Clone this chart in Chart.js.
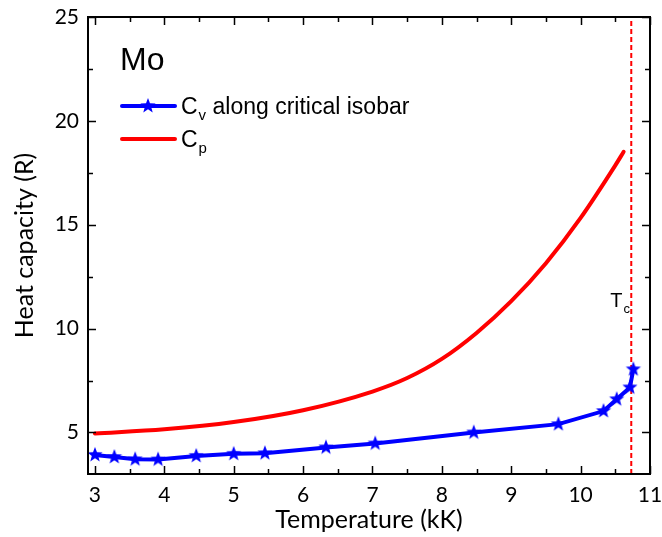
<!DOCTYPE html>
<html>
<head>
<meta charset="utf-8">
<script src="https://cdn.jsdelivr.net/npm/chart.js@4.4.1/dist/chart.umd.min.js"></script>
<style>
  html, body { margin: 0; padding: 0; background: #fff; }
</style>
</head>
<body>
<canvas id="chart" width="662" height="537"></canvas>
<script>
'use strict';

// Cp curve (R) vs temperature (kK)
const cpTemp = [3.0, 4.0, 5.0, 6.0, 7.0, 7.5, 8.0, 8.5, 9.0, 9.5, 10.0, 10.5, 10.62];
const cpValues = [4.95, 5.15, 5.5, 6.07, 6.97, 7.62, 8.54, 9.79, 11.32, 13.15, 15.33, 17.86, 18.51];

// Cv along the critical isobar
const cvTemp = [3.0, 3.28, 3.58, 3.91, 4.46, 5.0, 5.45, 6.33, 7.04, 8.46, 9.68, 10.33, 10.52, 10.71, 10.76];
const cvValues = [3.92, 3.82, 3.71, 3.70, 3.87, 3.97, 4.0, 4.28, 4.47, 5.0, 5.40, 6.03, 6.6, 7.17, 8.04];

const criticalTemp = 10.73;
const xTicks = [3, 4, 5, 6, 7, 8, 9, 10, 11];
const yTicks = [5, 10, 15, 20, 25];
const xMinor = [3.5, 4.5, 5.5, 6.5, 7.5, 8.5, 9.5, 10.5];
const yMinor = [7.5, 12.5, 17.5, 22.5];

const BLUE = '#0000ff';
const RED = '#ff0000';

function makeStar(radius, color) {
    const size = Math.ceil(radius * 2 + 2);
    const c = document.createElement('canvas');
    c.width = size;
    c.height = size;
    const ctx = c.getContext('2d');
    const cx = size / 2, cy = size / 2;
    ctx.beginPath();
    for (let i = 0; i < 10; i++) {
        const r = i % 2 === 0 ? radius : radius * 0.42;
        const a = -Math.PI / 2 + i * Math.PI / 5;
        const px = cx + r * Math.cos(a), py = cy + r * Math.sin(a);
        if (i === 0) ctx.moveTo(px, py); else ctx.lineTo(px, py);
    }
    ctx.closePath();
    ctx.fillStyle = color;
    ctx.fill();
    return c;
}

const star = makeStar(8, BLUE);

const toPoints = (xs, ys) => xs.map((x, i) => ({ x: x, y: ys[i] }));

function subText(ctx, x, y, main, sub, rest, size) {
    ctx.font = size + 'px "Liberation Sans", Arial, sans-serif';
    ctx.fillText(main, x, y);
    let w = ctx.measureText(main).width;
    ctx.font = Math.round(size * 0.65) + 'px "Liberation Sans", Arial, sans-serif';
    ctx.fillText(sub, x + w + 1, y + size * 0.28);
    w += ctx.measureText(sub).width + 1;
    if (rest) {
        ctx.font = size + 'px "Liberation Sans", Arial, sans-serif';
        ctx.fillText(rest, x + w, y);
    }
}

const frame = {
    id: 'frame',
    afterDraw(chart) {
        const { ctx, chartArea: a, scales } = chart;
        const sx = scales.x, sy = scales.y;
        ctx.save();
        ctx.strokeStyle = '#000';
        ctx.lineWidth = 2;
        ctx.strokeRect(a.left, a.top, a.right - a.left, a.bottom - a.top);

        // inward ticks on all four sides
        ctx.lineWidth = 1.5;
        ctx.beginPath();
        const xt = (v, len) => {
            const px = Math.round(sx.getPixelForValue(v)) + 0.5;
            ctx.moveTo(px, a.bottom); ctx.lineTo(px, a.bottom - len);
            ctx.moveTo(px, a.top); ctx.lineTo(px, a.top + len);
        };
        const yt = (v, len) => {
            const py = Math.round(sy.getPixelForValue(v)) + 0.5;
            ctx.moveTo(a.left, py); ctx.lineTo(a.left + len, py);
            ctx.moveTo(a.right, py); ctx.lineTo(a.right - len, py);
        };
        xTicks.forEach(v => xt(v, 8));
        xMinor.forEach(v => xt(v, 5));
        yTicks.forEach(v => yt(v, 8));
        yMinor.forEach(v => yt(v, 5));
        ctx.stroke();

        // Mo label and legend
        ctx.fillStyle = '#000';
        ctx.textBaseline = 'alphabetic';
        ctx.font = '32px "Liberation Sans", Arial, sans-serif';
        ctx.fillText('Mo', 120, 70);

        ctx.lineWidth = 4;
        ctx.lineCap = 'round';
        ctx.strokeStyle = BLUE;
        ctx.beginPath();
        ctx.moveTo(122, 106); ctx.lineTo(175, 106);
        ctx.stroke();
        ctx.drawImage(star, 148 - star.width / 2, 106 - star.height / 2);
        ctx.strokeStyle = RED;
        ctx.beginPath();
        ctx.moveTo(122, 139); ctx.lineTo(175, 139);
        ctx.stroke();

        subText(ctx, 181, 114, 'C', 'v', ' along critical isobar', 23);
        subText(ctx, 181, 147, 'C', 'p', '', 23);

        // Tc label
        const tx = sx.getPixelForValue(criticalTemp);
        subText(ctx, tx - 21, 307, 'T', 'c', '', 20);
        ctx.restore();
    }
};

const tickFont = { family: 'Lato, "Open Sans", sans-serif', size: 21 };
const titleFont = { family: 'Lato, "Open Sans", sans-serif', size: 25 };

new Chart(document.getElementById('chart'), {
    type: 'line',
    data: {
        datasets: [
            {
                label: 'Cv along critical isobar',
                data: toPoints(cvTemp, cvValues),
                borderColor: BLUE,
                backgroundColor: BLUE,
                borderWidth: 4,
                tension: 0,
                pointStyle: star,
                pointRadius: 8,
                order: 1
            },
            {
                label: 'Cp',
                data: toPoints(cpTemp, cpValues),
                borderColor: RED,
                borderWidth: 4,
                borderCapStyle: 'round',
                cubicInterpolationMode: 'monotone',
                pointRadius: 0,
                order: 2
            },
            {
                label: 'Tc',
                data: [{ x: criticalTemp, y: 3 }, { x: criticalTemp, y: 25 }],
                borderColor: RED,
                borderWidth: 2,
                borderDash: [5, 3],
                pointRadius: 0,
                order: 3
            }
        ]
    },
    options: {
        responsive: false,
        animation: false,
        devicePixelRatio: 1,
        layout: { padding: { left: 0, right: 11, top: 17, bottom: 0 } },
        plugins: { legend: { display: false }, tooltip: { enabled: false } },
        scales: {
            x: {
                type: 'linear',
                min: 2.9,
                max: 11,
                afterBuildTicks: s => { s.ticks = xTicks.map(v => ({ value: v })); },
                afterFit: s => { s.height = 63; s.paddingLeft = 0; s.paddingRight = 0; },
                grid: { display: false },
                border: { display: true, color: '#000', width: 2 },
                ticks: { color: '#000', font: tickFont, padding: 1 },
                title: { display: true, text: 'Temperature (kK)', color: '#000', font: titleFont, padding: { top: 0, bottom: 2 } }
            },
            y: {
                type: 'linear',
                min: 3,
                max: 25,
                afterBuildTicks: s => { s.ticks = yTicks.map(v => ({ value: v })); },
                afterFit: s => { s.width = 88; s.paddingTop = 0; s.paddingBottom = 0; },
                grid: { display: false },
                border: { display: true, color: '#000', width: 2 },
                ticks: { color: '#000', font: tickFont, padding: 1 },
                title: { display: true, text: 'Heat capacity (R)', color: '#000', font: titleFont, padding: { top: 10, bottom: 0 } }
            }
        }
    },
    plugins: [frame]
});
</script>
</body>
</html>
